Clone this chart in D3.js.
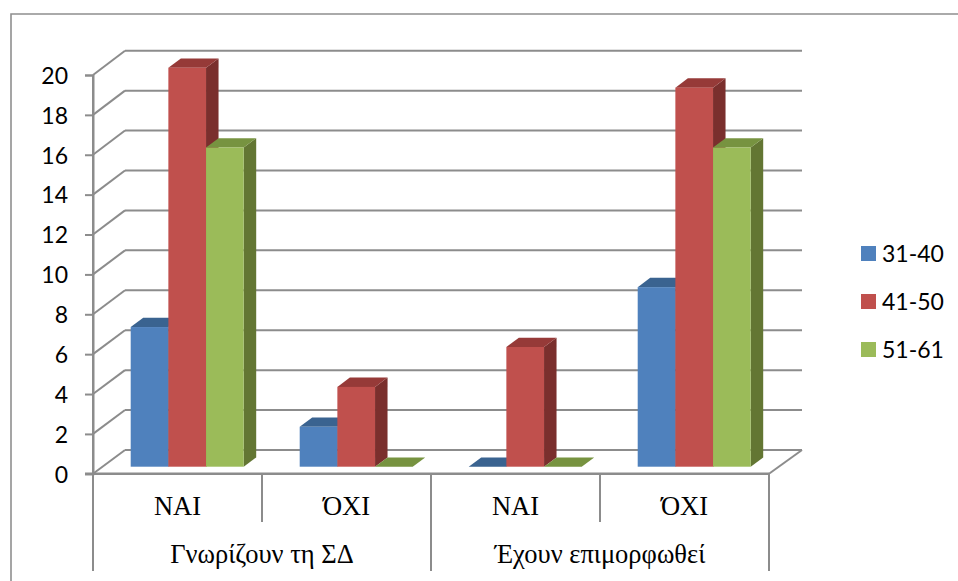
<!DOCTYPE html>
<html><head><meta charset="utf-8">
<script src="https://cdn.jsdelivr.net/npm/d3@7"></script>
<style>html,body{margin:0;padding:0;background:#fff;overflow:hidden}svg{display:block}</style>
</head><body><svg id="c" width="958" height="581"></svg>
<script>
const categories = ["ΝΑΙ", "ΌΧΙ", "ΝΑΙ", "ΌΧΙ"];
const groups = ["Γνωρίζουν τη ΣΔ", "Έχουν επιμορφωθεί"];
const seriesNames = ["31-40", "41-50", "51-61"];
const values3140 = [7, 2, 0, 9];
const values4150 = [20, 4, 6, 19];
const values5161 = [16, 0, 0, 16];
const yTicks = [0,2,4,6,8,10,12,14,16,18,20];
const colors = {
  "31-40": {front:"#4F81BD", top:"#3A6390", side:"#30527A"},
  "41-50": {front:"#C0504D", top:"#963A38", side:"#7A2F2D"},
  "51-61": {front:"#9BBB59", top:"#779340", side:"#637633"}
};
const allValues = [values3140, values4150, values5161];

const svg = d3.select("#c");
const grid = "#8c8c8c";
const sans = "Lato, 'Open Sans', sans-serif", serif = "'Liberation Serif', serif";

svg.append("path").attr("d","M11,590V14H970").attr("fill","none").attr("stroke","#8f8f8f").attr("stroke-width",1.6);

const yFront = d3.scaleLinear().domain([0,20]).range([473.8,75]);
const yBack = d3.scaleLinear().domain([0,20]).range([450,50.7]);
const yBar = d3.scaleLinear().domain([0,20]).range([466.7,67.7]);
const xCat = d3.scaleBand().domain(d3.range(categories.length)).range([93,769]);
const xBack = d3.scaleLinear().domain([93,769]).range([125,802]);
const xSeries = d3.scaleBand().domain(seriesNames).range([-56.5,56.5]);
const barShift = 9.7, depthX = 12.5, depthY = 9.3;

const line = (x1,y1,x2,y2,w=2) => svg.append("line").attr("x1",x1).attr("y1",y1).attr("x2",x2).attr("y2",y2)
  .attr("stroke",grid).attr("stroke-width",w);

yTicks.forEach(t => {
  line(xBack(93),yBack(t),xBack(769),yBack(t));
  line(93,yFront(t),xBack(93),yBack(t));
});
line(769,yFront(0),802,yBack(0));

const gy = svg.append("g").attr("transform","translate(93,0)")
  .call(d3.axisLeft(yFront).tickValues(yTicks).tickSize(8).tickPadding(17));
gy.selectAll("path,line").attr("stroke",grid).attr("stroke-width",2);
gy.selectAll("text").attr("font-family",sans).attr("font-size",23).attr("fill","#000").attr("dy","0.36em");

line(85,yFront(0),769,yFront(0),2.4);
d3.range(categories.length+1).forEach(i => {
  const x = 93 + i*xCat.step();
  line(x, i===0?75:yFront(0), x, i%2===0?571:522);
});
svg.selectAll("text.cat").data(categories).join("text").attr("class","cat")
  .attr("x",(d,i)=>xCat(i)+xCat.bandwidth()/2).attr("y",515).attr("text-anchor","middle")
  .attr("font-family",serif).attr("font-size",26.5).attr("fill","#000").text(d=>d);
svg.selectAll("text.grp").data(groups).join("text").attr("class","grp")
  .attr("x",(d,i)=>93+xCat.step()*(2*i+1)).attr("y",563).attr("text-anchor","middle")
  .attr("font-family",serif).attr("font-size",26.5).attr("fill","#000").text(d=>d);

categories.forEach((c,i) => {
  const cx = xCat(i)+xCat.bandwidth()/2+barShift;
  seriesNames.forEach((s,k) => {
    const v = allValues[k][i], col = colors[s];
    const x0 = cx+xSeries(s), x1 = x0+xSeries.bandwidth(), yt = yBar(v), yb = yBar(0);
    const g = svg.append("g");
    g.append("path").attr("fill",col.side)
      .attr("d",`M${x1},${yt}L${x1+depthX},${yt-depthY}V${yb-depthY}L${x1},${yb}Z`);
    g.append("path").attr("fill",col.top)
      .attr("d",`M${x0},${yt}L${x0+depthX},${yt-depthY}H${x1+depthX}L${x1},${yt}Z`);
    g.append("rect").attr("x",x0).attr("y",yt).attr("width",x1-x0).attr("height",yb-yt).attr("fill",col.front);
  });
});

seriesNames.forEach((s,k) => {
  const y = 246+k*48;
  svg.append("rect").attr("x",861).attr("y",y).attr("width",15).attr("height",15).attr("fill",colors[s].front);
  svg.append("text").attr("x",882).attr("y",y+15.5).attr("font-family",sans).attr("font-size",23).attr("fill","#000").text(s);
});
</script></body></html>
